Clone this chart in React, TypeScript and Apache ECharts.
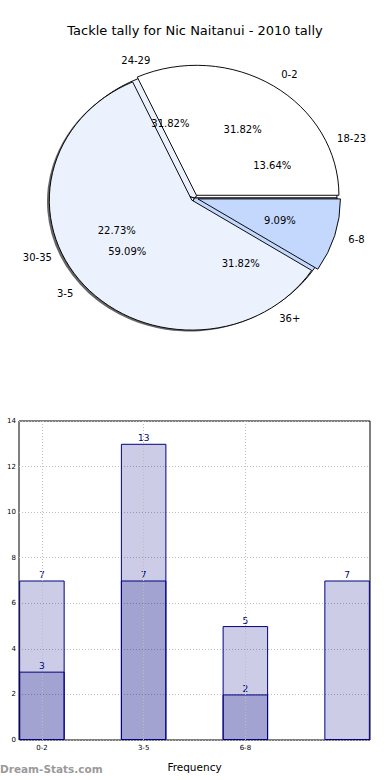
import React, { useEffect, useRef } from "react";
import * as echarts from "echarts";

const FONT = '"DejaVu Sans", sans-serif';
const TITLE = "Tackle tally for Nic Naitanui - 2010 tally";
const WATERMARK = "Dream-Stats.com";

// Underlying pie (drawn first, with shadow)
const pieOuterLabels = ["18-23", "24-29", "30-35", "36+"];
const pieOuterValues = [3, 7, 5, 7];
const pieOuterColors = ["#ffffff", "#ebf2fe", "#ebf2fe", "#c4d8fe"];

// Top pie (exploded)
const pieInnerLabels = ["0-2", "3-5", "6-8"];
const pieInnerValues = [7, 13, 2];
const pieInnerColors = ["#ffffff", "#ebf2fe", "#c4d8fe"];

// Bar chart
const barCategories = ["0-2", "3-5", "6-8", ""];
const barTotals = [7, 13, 5, 7];
const barSub: (number | null)[] = [3, 7, 2, null];
const barTickPositions = [0, 1, 2];

// Layout/style constants
const CX = 194.5;
const CY = 198;
const RX = 142.5;
const RY = 130;
const EXPLODE = 0.025;
const SHADOW_DX = -5;
const SHADOW_DY = 3.5;

function makePieRender(
  values: number[],
  labels: string[],
  colors: string[],
  explode: number,
  withShadow: boolean,
  zBase: number
) {
  const total = values.reduce((a, b) => a + b, 0);
  const starts: number[] = [];
  let acc = 0;
  values.forEach((v) => {
    starts.push(acc);
    acc += v;
  });
  return (params: any, api: any) => {
    const i = params.dataIndex;
    const v = api.value(0);
    const a1 = (starts[i] / total) * 2 * Math.PI;
    const a2 = ((starts[i] + v) / total) * 2 * Math.PI;
    const mid = (a1 + a2) / 2;
    const cosm = Math.cos(mid);
    const sinm = Math.sin(mid);
    const cx = CX + explode * RX * cosm;
    const cy = CY - explode * RY * sinm;
    const sy = RY / RX;
    const shape = { cx: 0, cy: 0, r: RX, r0: 0, startAngle: -a2, endAngle: -a1, clockwise: true };
    const children: any[] = [];
    if (withShadow) {
      children.push({
        type: "sector",
        x: cx + SHADOW_DX,
        y: cy + SHADOW_DY,
        scaleY: sy,
        shape: { ...shape },
        style: { fill: "rgba(50,50,50,0.75)" },
        z2: 0,
      });
    }
    children.push({
      type: "sector",
      x: cx,
      y: cy,
      scaleY: sy,
      shape: { ...shape },
      style: { fill: colors[i], stroke: "#000", lineWidth: 1, strokeNoScale: true },
      z2: zBase,
    });
    const pct = ((v / total) * 100).toFixed(2) + "%";
    children.push({
      type: "text",
      x: cx + 0.6 * RX * cosm,
      y: cy - 0.6 * RY * sinm,
      style: {
        text: pct,
        fill: "#000",
        fontSize: 10,
        fontFamily: FONT,
        align: "center",
        verticalAlign: "middle",
      },
      z2: 100,
    });
    children.push({
      type: "text",
      x: cx + 1.1 * RX * cosm,
      y: cy - 1.1 * RY * sinm,
      style: {
        text: labels[i],
        fill: "#000",
        fontSize: 10,
        fontFamily: FONT,
        align: cosm > 0 ? "left" : "right",
        verticalAlign: "middle",
      },
      z2: 100,
    });
    return { type: "group", children };
  };
}

export default function App() {
  const ref = useRef<HTMLDivElement>(null);

  useEffect(() => {
    if (!ref.current) return;
    const chart = echarts.init(ref.current, undefined, { renderer: "svg" });
    const gridColor = "#bdbdbd";
    const option: any = {
      animation: false,
      backgroundColor: "#ffffff",
      title: {
        text: TITLE,
        left: "center",
        top: 19,
        textStyle: { fontSize: 13, fontWeight: "normal", color: "#000", fontFamily: FONT },
      },
      graphic: [
        {
          type: "text",
          left: 0,
          top: 763,
          style: {
            text: WATERMARK,
            fill: "#9a9a9a",
            font: 'bold 10.5px "DejaVu Sans", sans-serif',
          },
        },
      ],
      grid: {
        left: 19,
        right: 20,
        top: 421,
        bottom: 40,
        show: true,
        borderColor: "#000",
        borderWidth: 1,
        backgroundColor: "transparent",
      },
      xAxis: {
        type: "value",
        min: -0.225,
        max: 3.225,
        splitLine: { show: false },
        axisLine: { show: false },
        axisTick: { show: false },
        axisLabel: {
          customValues: barTickPositions,
          formatter: (v: number) => barCategories[Math.round(v)] ?? "",
          fontSize: 7,
          color: "#000",
          fontFamily: FONT,
          margin: 4,
        },
        name: "Frequency",
        nameLocation: "middle",
        nameGap: 21,
        nameTextStyle: { fontSize: 10.5, color: "#000", fontFamily: FONT },
      },
      yAxis: {
        type: "value",
        min: 0,
        max: 14,
        interval: 2,
        axisLine: { show: false },
        axisTick: { show: false },
        splitLine: { show: true, lineStyle: { type: [1, 2], color: gridColor, width: 1 } },
        axisLabel: { fontSize: 7, color: "#000", fontFamily: FONT, margin: 3 },
      },
      series: [
        {
          type: "custom",
          coordinateSystem: "none",
          data: pieOuterValues,
          renderItem: makePieRender(pieOuterValues, pieOuterLabels, pieOuterColors, 0, true, 5),
          silent: true,
        },
        {
          type: "custom",
          coordinateSystem: "none",
          data: pieInnerValues,
          renderItem: makePieRender(pieInnerValues, pieInnerLabels, pieInnerColors, EXPLODE, false, 10),
          silent: true,
        },
        {
          type: "bar",
          data: barTotals.map((v, i) => [i, v]),
          barWidth: 45.5,
          barGap: "-100%",
          itemStyle: { color: "rgba(0,0,128,0.2)", borderColor: "#000080", borderWidth: 1 },
          label: {
            show: true,
            position: "top",
            distance: 1,
            color: "#000080",
            fontSize: 9,
            fontFamily: FONT,
            formatter: (p: any) => String(p.value[1]),
          },
          markLine: {
            silent: true,
            symbol: "none",
            label: { show: false },
            lineStyle: { type: [1, 2], color: gridColor, width: 1 },
            data: barTickPositions.map((x) => ({ xAxis: x })),
          },
        },
        {
          type: "bar",
          data: barSub.map((v, i) => [i, v]),
          barWidth: 45.5,
          barGap: "-100%",
          itemStyle: { color: "rgba(0,0,128,0.2)", borderColor: "#000080", borderWidth: 1 },
          label: {
            show: true,
            position: "top",
            distance: 1,
            color: "#000080",
            fontSize: 9,
            fontFamily: FONT,
            formatter: (p: any) => (p.value[1] == null ? "" : String(p.value[1])),
          },
        },
      ],
    };
    chart.setOption(option);
    return () => {
      chart.dispose();
    };
  }, []);

  return (
    <div
      ref={ref}
      style={{ position: "fixed", left: 0, top: 0, width: 390, height: 780, background: "#fff" }}
    />
  );
}
